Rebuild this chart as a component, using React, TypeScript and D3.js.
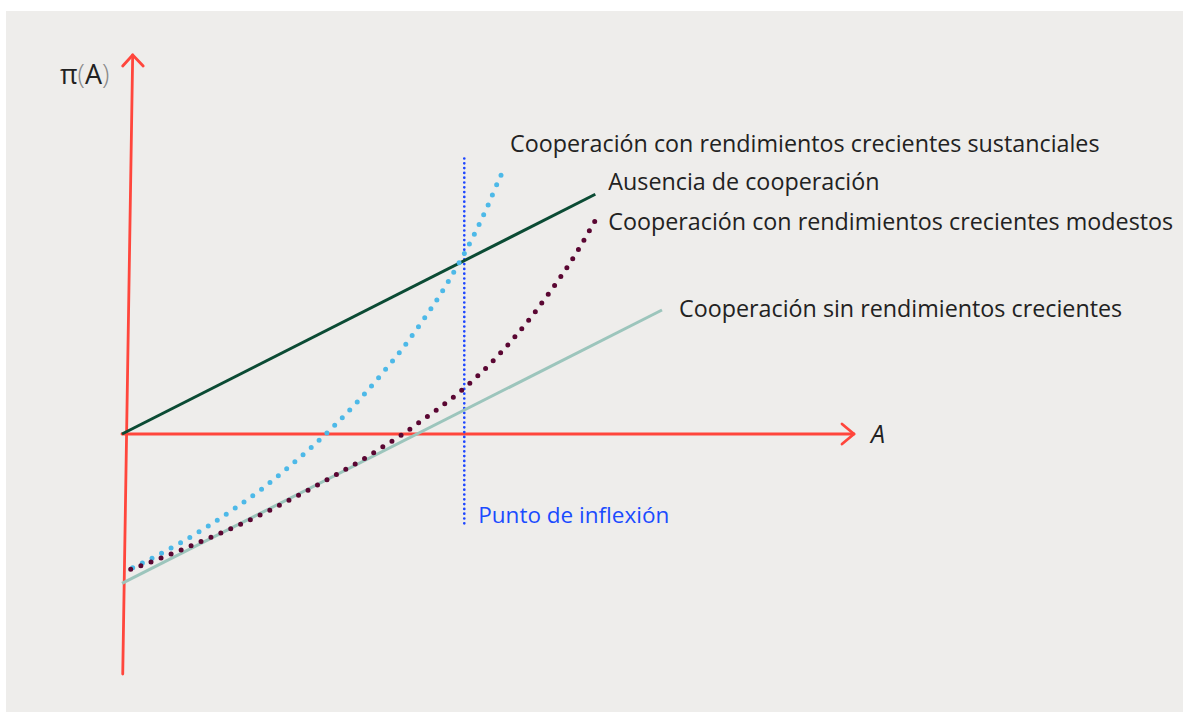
import { useEffect, useRef } from 'react';
import * as d3 from 'd3';

// values, in chart units (A on x, π(A) on y)
const noCoopLine = [[0, 0], [6.466, 3.275]];
const coopLinear = [[0, -2.04], [7.377, 1.694]];
const coopModest = [
  [0.119, -1.848], [0.392, -1.749], [0.806, -1.585], [1.216, -1.411], [1.626, -1.23],
  [2.026, -1.038], [2.418, -0.833], [2.869, -0.587], [3.329, -0.324], [3.575, -0.168],
  [3.825, -0.01], [4.067, 0.164], [4.307, 0.337], [4.563, 0.533], [4.676, 0.628],
  [5.004, 0.933], [5.31, 1.261], [5.597, 1.608], [5.865, 1.967], [6.12, 2.336],
  [6.352, 2.719], [6.466, 2.919],
];
const coopStrong = [
  [0.146, -1.827], [0.406, -1.698], [0.796, -1.489], [1.184, -1.253], [1.561, -1.001],
  [1.922, -0.742], [2.277, -0.451], [2.613, -0.16], [2.941, 0.154], [3.251, 0.478],
  [3.548, 0.82], [3.835, 1.171], [4.098, 1.534], [4.354, 1.913], [4.581, 2.295],
  [4.795, 2.691], [4.99, 3.101], [5.168, 3.515], [5.219, 3.62],
];
const inflexionA = 4.676;
const inflexionSpan = [-1.22, 3.811];
const xAxisSpan = [0, 10];
const yAxisEnds = [[0.01, -3.279], [0.146, 5.178]];

const labels = {
  strong: 'Cooperación con rendimientos crecientes sustanciales',
  none: 'Ausencia de cooperación',
  modest: 'Cooperación con rendimientos crecientes modestos',
  linear: 'Cooperación sin rendimientos crecientes',
  inflexion: 'Punto de inflexión',
};

const App = () => {
  const svgRef = useRef();

  useEffect(() => {
    document.body.style.margin = '0';
    draw();
  }, []);

  const draw = () => {
    const width = 1183;
    const height = 712;
    const svg = d3.select(svgRef.current);
    svg.selectAll('*').remove();
    svg.attr('width', width).attr('height', height)
      .style('display', 'block')
      .style('font-family', '"Open Sans", sans-serif');

    svg.append('rect')
      .attr('x', 6).attr('y', 11)
      .attr('width', width - 6).attr('height', height - 11)
      .attr('fill', '#eeedeb');

    // 73.2 px per unit on both axes, origin at (122, 434)
    const x = d3.scaleLinear().domain([0, 10]).range([122, 854]);
    const y = d3.scaleLinear().domain([-3, 5]).range([434 + 3 * 73.2, 434 - 5 * 73.2]);

    const red = '#ff463c';
    const straight = d3.line().x(d => x(d[0])).y(d => y(d[1]));
    const curved = d3.line().x(d => x(d[0])).y(d => y(d[1])).curve(d3.curveMonotoneX);

    // axes
    const axes = svg.append('g')
      .attr('stroke', red)
      .attr('stroke-width', 2.8)
      .attr('fill', 'none')
      .attr('stroke-linecap', 'round')
      .attr('stroke-linejoin', 'round');

    axes.append('path').attr('d', straight([[xAxisSpan[0], 0], [xAxisSpan[1], 0]]));
    const tipX = [x(xAxisSpan[1]), y(0)];
    axes.append('path')
      .attr('d', `M${tipX[0] - 12},${tipX[1] - 10}L${tipX[0]},${tipX[1]}L${tipX[0] - 12},${tipX[1] + 10}`);

    axes.append('path').attr('d', straight(yAxisEnds));
    const tipY = [x(yAxisEnds[1][0]), y(yAxisEnds[1][1])];
    axes.append('path')
      .attr('d', `M${tipY[0] - 10},${tipY[1] + 11}L${tipY[0]},${tipY[1]}L${tipY[0] + 10.5},${tipY[1] + 11}`);

    // inflexion marker
    svg.append('line')
      .attr('x1', x(inflexionA)).attr('x2', x(inflexionA))
      .attr('y1', y(inflexionSpan[0])).attr('y2', y(inflexionSpan[1]))
      .attr('stroke', '#1d46ff')
      .attr('stroke-width', 2.7)
      .attr('stroke-linecap', 'round')
      .attr('stroke-dasharray', '0 4.8');

    svg.append('path')
      .attr('d', straight(coopLinear))
      .attr('fill', 'none')
      .attr('stroke', '#9cc5bc')
      .attr('stroke-width', 3);

    svg.append('path')
      .attr('d', straight(noCoopLine))
      .attr('fill', 'none')
      .attr('stroke', '#0b4b34')
      .attr('stroke-width', 3);

    svg.append('path')
      .attr('d', curved(coopStrong))
      .attr('fill', 'none')
      .attr('stroke', '#4db9e8')
      .attr('stroke-width', 5)
      .attr('stroke-linecap', 'round')
      .attr('stroke-dasharray', '0 10.8');

    svg.append('path')
      .attr('d', curved(coopModest))
      .attr('fill', 'none')
      .attr('stroke', '#5a0632')
      .attr('stroke-width', 5)
      .attr('stroke-linecap', 'round')
      .attr('stroke-dasharray', '0 10.8');

    // labels
    const text = svg.append('g').attr('fill', '#222').attr('font-size', 23.3);
    const end = arr => arr[arr.length - 1];

    text.append('text')
      .attr('x', x(end(coopStrong)[0]) + 6).attr('y', y(end(coopStrong)[1]) - 17)
      .text(labels.strong);
    text.append('text')
      .attr('x', x(end(noCoopLine)[0]) + 13).attr('y', y(end(noCoopLine)[1]) - 4)
      .text(labels.none);
    text.append('text')
      .attr('x', x(end(coopModest)[0]) + 13).attr('y', y(end(coopModest)[1]) + 10)
      .text(labels.modest);
    text.append('text')
      .attr('x', x(end(coopLinear)[0]) + 17).attr('y', y(end(coopLinear)[1]) + 7)
      .text(labels.linear);

    svg.append('text')
      .attr('x', x(inflexionA) + 14).attr('y', y(inflexionSpan[0]))
      .attr('fill', '#1a4bff')
      .attr('font-size', 22.5)
      .text(labels.inflexion);

    svg.append('text')
      .attr('x', x(xAxisSpan[1]) + 17).attr('y', y(0) + 9)
      .attr('font-size', 25)
      .attr('font-style', 'italic')
      .attr('fill', '#222')
      .text('A');

    const pi = svg.append('text')
      .attr('x', 60).attr('y', 84)
      .attr('font-size', 27)
      .attr('fill', '#222');
    pi.append('tspan').text('π');
    pi.append('tspan').attr('fill', '#888').attr('font-weight', 300).text('(');
    pi.append('tspan').text('A');
    pi.append('tspan').attr('fill', '#888').attr('font-weight', 300).text(')');
  };

  return <svg ref={svgRef} />;
};

export default App;
